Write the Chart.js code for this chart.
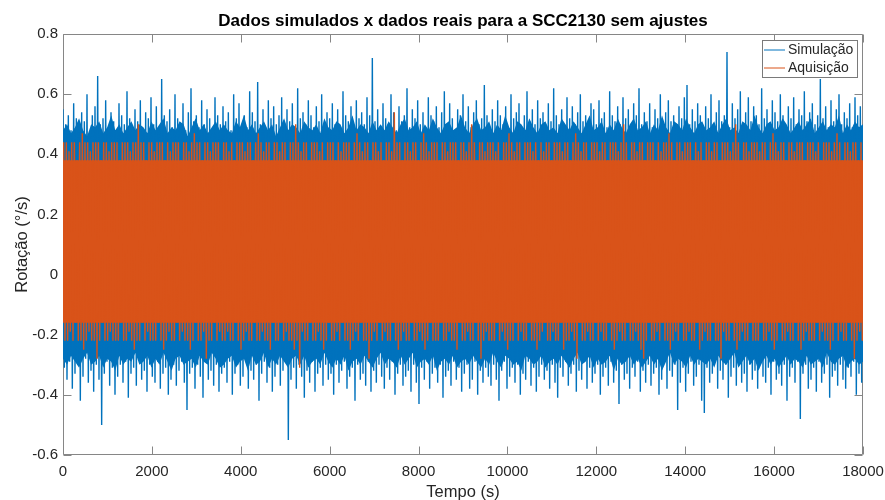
<!DOCTYPE html>
<html>
<head>
<meta charset="utf-8">
<script src="https://cdn.jsdelivr.net/npm/chart.js@4/dist/chart.umd.min.js"></script>
<style>
  html, body { margin: 0; padding: 0; background: #ffffff; }
  #wrap { width: 885px; height: 500px; }
</style>
</head>
<body>
<div id="wrap"><canvas id="c" width="885" height="500"></canvas></div>
<script>
// ---- texts ----
const chartTitle = 'Dados simulados x dados reais para a SCC2130 sem ajustes';
const xAxisTitle = 'Tempo (s)';
const yAxisTitle = 'Rotação (°/s)';
const seriesNames = ['Simulação', 'Aquisição'];

// ---- axes ----
const xTicks = [0, 2000, 4000, 6000, 8000, 10000, 12000, 14000, 16000, 18000];
const xTickLabels = ['0', '2000', '4000', '6000', '8000', '10000', '12000', '14000', '16000', '18000'];
const yTicks = [-0.6, -0.4, -0.2, 0, 0.2, 0.4, 0.6, 0.8];
const yTickLabels = ['-0.6', '-0.4', '-0.2', '0', '0.2', '0.4', '0.6', '0.8'];

// ---- signals ----
const recordLength = 18000;   // s
const extremaSpacing = 30;    // s between successive extremes (peak, trough, peak, ...)
const simStart = 0;           // s
const acqStart = 15;          // s

// Simulação: edges of the densely filled part of the record.
const simEdgeTop = [
  0.48,0.50,0.47,0.49,0.52,0.48,0.46,0.50,0.49,0.51,0.47,0.49,0.53,0.48,0.50,0.47,0.49,0.51,0.48,0.50,
  0.49,0.47,0.51,0.48,0.50,0.52,0.47,0.49,0.48,0.51,0.50,0.46,0.49,0.52,0.48,0.50,0.47,0.49,0.51,0.48,
  0.50,0.48,0.47,0.51,0.49,0.53,0.48,0.50,0.47,0.49,0.51,0.48,0.50,0.46,0.49,0.52,0.48,0.50,0.49,0.47,
  0.51,0.49,0.48,0.50,0.47,0.52,0.49,0.48,0.51,0.50,0.47,0.49,0.53,0.48,0.50,0.49,0.47,0.51,0.48,0.50,
  0.48,0.51,0.49,0.47,0.50,0.52,0.48,0.49,0.51,0.47,0.50,0.48,0.52,0.49,0.47,0.50,0.51,0.48,0.49,0.53,
  0.49,0.47,0.50,0.52,0.48,0.49,0.51,0.47,0.50,0.48,0.53,0.49,0.47,0.51,0.50,0.48,0.52,0.49,0.47,0.50,
  0.51,0.48,0.49,0.47,0.52,0.50,0.48,0.51,0.49,0.47,0.50,0.53,0.48,0.49,0.51,0.47,0.50,0.48,0.52,0.49,
  0.47,0.50,0.52,0.48,0.49,0.51,0.47,0.50,0.48,0.53,0.49,0.47,0.51,0.50,0.48,0.52,0.49,0.47,0.50,0.51,
  0.48,0.49,0.51,0.47,0.50,0.52,0.48,0.49,0.47,0.51,0.50,0.48,0.53,0.49,0.47,0.50,0.51,0.48,0.49,0.52,
  0.50,0.47,0.49,0.51,0.48,0.50,0.52,0.47,0.49,0.51,0.48,0.50,0.49,0.53,0.47,0.50,0.48,0.51,0.49,0.50
];
const simEdgeBottom = [
  -0.28,-0.30,-0.27,-0.29,-0.31,-0.28,-0.26,-0.30,-0.29,-0.27,-0.31,-0.28,-0.29,-0.32,-0.27,-0.30,-0.28,-0.29,-0.26,-0.30,
  -0.29,-0.27,-0.31,-0.28,-0.30,-0.26,-0.29,-0.32,-0.28,-0.27,-0.30,-0.29,-0.28,-0.31,-0.27,-0.29,-0.30,-0.26,-0.28,-0.31,
  -0.30,-0.28,-0.27,-0.31,-0.29,-0.28,-0.32,-0.27,-0.30,-0.29,-0.26,-0.31,-0.28,-0.30,-0.27,-0.29,-0.31,-0.28,-0.27,-0.30,
  -0.27,-0.31,-0.29,-0.28,-0.30,-0.26,-0.29,-0.31,-0.28,-0.30,-0.27,-0.32,-0.29,-0.28,-0.30,-0.27,-0.29,-0.31,-0.28,-0.26,
  -0.30,-0.28,-0.29,-0.31,-0.27,-0.30,-0.28,-0.26,-0.31,-0.29,-0.28,-0.30,-0.27,-0.32,-0.29,-0.28,-0.30,-0.27,-0.31,-0.29,
  -0.28,-0.30,-0.27,-0.29,-0.31,-0.28,-0.30,-0.26,-0.29,-0.31,-0.27,-0.28,-0.30,-0.29,-0.32,-0.27,-0.28,-0.30,-0.29,-0.27,
  -0.31,-0.29,-0.28,-0.30,-0.27,-0.29,-0.31,-0.28,-0.26,-0.30,-0.29,-0.27,-0.31,-0.28,-0.30,-0.29,-0.27,-0.32,-0.28,-0.30,
  -0.29,-0.27,-0.30,-0.28,-0.31,-0.29,-0.27,-0.30,-0.28,-0.32,-0.29,-0.26,-0.30,-0.28,-0.29,-0.31,-0.27,-0.30,-0.28,-0.29,
  -0.30,-0.28,-0.31,-0.27,-0.29,-0.30,-0.28,-0.26,-0.31,-0.29,-0.27,-0.30,-0.28,-0.32,-0.29,-0.27,-0.30,-0.28,-0.31,-0.29,
  -0.27,-0.30,-0.28,-0.29,-0.31,-0.27,-0.30,-0.29,-0.28,-0.31,-0.26,-0.29,-0.30,-0.28,-0.27,-0.31,-0.29,-0.28,-0.30,-0.29
];

// Simulação: local maxima and minima, in time order.
const simHigh = [
  0.55,0.50,0.53,0.48,0.57,0.52,0.49,0.54,0.51,0.60,0.47,0.53,0.56,0.66,0.50,0.52,0.58,0.49,0.54,0.51,
  0.48,0.57,0.53,0.50,0.61,0.52,0.49,0.55,0.51,0.58,0.47,0.54,0.52,0.59,0.50,0.56,0.48,0.65,0.53,0.51,
  0.55,0.49,0.60,0.52,0.50,0.57,0.48,0.54,0.62,0.51,0.53,0.49,0.58,0.50,0.55,0.52,0.47,0.59,0.53,0.50,
  0.56,0.51,0.54,0.48,0.60,0.52,0.57,0.50,0.53,0.49,0.61,0.54,0.51,0.64,0.50,0.55,0.48,0.58,0.52,0.56,
  0.50,0.53,0.59,0.49,0.55,0.51,0.57,0.48,0.62,0.52,0.54,0.50,0.58,0.53,0.49,0.56,0.51,0.60,0.47,0.54,
  0.52,0.57,0.50,0.55,0.48,0.61,0.53,0.51,0.56,0.49,0.58,0.52,0.54,0.50,0.59,0.53,0.72,0.51,0.55,0.49,
  0.57,0.52,0.50,0.60,0.54,0.48,0.56,0.51,0.53,0.62,0.49,0.55,0.52,0.58,0.50,0.54,0.47,0.59,0.53,0.51,
  0.56,0.49,0.54,0.61,0.50,0.57,0.52,0.48,0.55,0.53,0.60,0.51,0.56,0.49,0.54,0.58,0.50,0.52,0.63,0.53,
  0.49,0.55,0.51,0.58,0.53,0.50,0.56,0.48,0.60,0.52,0.54,0.57,0.49,0.53,0.61,0.51,0.55,0.50,0.58,0.52,
  0.54,0.48,0.57,0.51,0.62,0.53,0.50,0.55,0.49,0.59,0.52,0.56,0.50,0.54,0.60,0.51,0.53,0.48,0.57,0.55,
  0.50,0.58,0.52,0.54,0.49,0.61,0.53,0.51,0.56,0.50,0.59,0.52,0.55,0.48,0.57,0.53,0.62,0.50,0.54,0.51,
  0.57,0.49,0.55,0.52,0.60,0.50,0.54,0.58,0.51,0.53,0.49,0.56,0.52,0.59,0.63,0.50,0.55,0.51,0.57,0.53,
  0.49,0.56,0.52,0.60,0.50,0.54,0.58,0.51,0.53,0.74,0.49,0.57,0.52,0.55,0.61,0.50,0.54,0.59,0.51,0.56,
  0.53,0.50,0.62,0.52,0.55,0.48,0.58,0.54,0.51,0.60,0.53,0.49,0.56,0.52,0.59,0.50,0.55,0.53,0.61,0.51,
  0.54,0.57,0.50,0.53,0.65,0.52,0.56,0.49,0.58,0.51,0.55,0.60,0.50,0.54,0.52,0.57,0.49,0.59,0.53,0.56
];
const simLow = [
  -0.31,-0.35,-0.29,-0.38,-0.33,-0.30,-0.42,-0.34,-0.28,-0.36,-0.32,-0.39,-0.30,-0.35,-0.50,-0.33,-0.29,-0.37,-0.31,-0.40,
  -0.34,-0.30,-0.36,-0.29,-0.41,-0.33,-0.31,-0.37,-0.28,-0.35,-0.32,-0.39,-0.30,-0.34,-0.36,-0.29,-0.38,-0.33,-0.31,-0.40,
  -0.35,-0.30,-0.37,-0.32,-0.29,-0.36,-0.45,-0.33,-0.31,-0.38,-0.30,-0.34,-0.41,-0.29,-0.35,-0.32,-0.37,-0.30,-0.39,-0.33,
  -0.31,-0.36,-0.29,-0.40,-0.33,-0.30,-0.37,-0.34,-0.28,-0.38,-0.32,-0.35,-0.30,-0.42,-0.33,-0.29,-0.36,-0.31,-0.39,-0.34,
  -0.30,-0.37,-0.32,-0.29,-0.55,-0.35,-0.31,-0.38,-0.30,-0.34,-0.41,-0.32,-0.36,-0.29,-0.39,-0.33,-0.31,-0.37,-0.30,-0.35,
  -0.33,-0.40,-0.30,-0.36,-0.32,-0.29,-0.38,-0.34,-0.31,-0.42,-0.30,-0.35,-0.33,-0.37,-0.29,-0.39,-0.32,-0.36,-0.30,-0.34,
  -0.38,-0.31,-0.35,-0.29,-0.40,-0.33,-0.30,-0.37,-0.34,-0.32,-0.39,-0.30,-0.36,-0.43,-0.31,-0.35,-0.29,-0.38,-0.33,-0.31,
  -0.36,-0.30,-0.41,-0.34,-0.32,-0.37,-0.29,-0.35,-0.31,-0.39,-0.33,-0.30,-0.38,-0.35,-0.29,-0.40,-0.32,-0.36,-0.31,-0.34,
  -0.37,-0.30,-0.35,-0.42,-0.32,-0.29,-0.38,-0.34,-0.31,-0.36,-0.30,-0.40,-0.33,-0.35,-0.29,-0.37,-0.31,-0.39,-0.34,-0.30,
  -0.35,-0.32,-0.38,-0.30,-0.36,-0.41,-0.31,-0.34,-0.29,-0.37,-0.33,-0.30,-0.39,-0.32,-0.35,-0.29,-0.38,-0.31,-0.36,-0.33,
  -0.30,-0.40,-0.34,-0.31,-0.37,-0.29,-0.36,-0.32,-0.43,-0.30,-0.35,-0.33,-0.38,-0.31,-0.34,-0.29,-0.39,-0.32,-0.36,-0.30,
  -0.37,-0.33,-0.31,-0.40,-0.35,-0.29,-0.38,-0.32,-0.34,-0.30,-0.45,-0.36,-0.31,-0.39,-0.33,-0.29,-0.37,-0.34,-0.30,-0.42,
  -0.46,-0.31,-0.36,-0.33,-0.29,-0.38,-0.32,-0.35,-0.30,-0.41,-0.34,-0.31,-0.37,-0.29,-0.36,-0.33,-0.39,-0.30,-0.35,-0.32,
  -0.38,-0.30,-0.34,-0.36,-0.31,-0.40,-0.29,-0.35,-0.33,-0.37,-0.30,-0.42,-0.34,-0.31,-0.36,-0.29,-0.48,-0.33,-0.30,-0.38,
  -0.35,-0.31,-0.39,-0.29,-0.36,-0.33,-0.30,-0.41,-0.34,-0.32,-0.37,-0.30,-0.35,-0.38,-0.31,-0.34,-0.29,-0.40,-0.33,-0.36
];

// Aquisição: edges of the densely filled part (quantised sensor output).
const acqEdgeTop = [0.38, 0.38];
const acqEdgeBottom = [-0.16, -0.16];

// Aquisição: local maxima and minima, in time order.
const acqHigh = [
  0.44,0.44,0.41,0.44,0.44,0.38,0.44,0.47,0.44,0.44,0.41,0.44,0.44,0.44,0.38,0.44,0.44,0.41,0.44,0.44,
  0.44,0.38,0.44,0.44,0.44,0.41,0.44,0.44,0.50,0.44,0.44,0.38,0.44,0.44,0.41,0.44,0.44,0.44,0.38,0.44,
  0.41,0.44,0.44,0.44,0.38,0.44,0.44,0.41,0.44,0.47,0.44,0.44,0.38,0.44,0.44,0.41,0.44,0.44,0.44,0.38,
  0.44,0.44,0.41,0.44,0.38,0.44,0.44,0.44,0.41,0.44,0.44,0.38,0.44,0.47,0.44,0.41,0.44,0.44,0.38,0.44,
  0.44,0.41,0.44,0.44,0.38,0.44,0.44,0.50,0.44,0.41,0.44,0.44,0.38,0.44,0.44,0.44,0.41,0.44,0.38,0.44,
  0.44,0.44,0.38,0.44,0.41,0.44,0.44,0.44,0.38,0.44,0.47,0.44,0.41,0.44,0.44,0.38,0.44,0.44,0.41,0.44,
  0.38,0.44,0.44,0.41,0.54,0.44,0.44,0.38,0.44,0.44,0.41,0.44,0.44,0.38,0.44,0.47,0.44,0.41,0.44,0.44,
  0.44,0.38,0.44,0.44,0.41,0.44,0.44,0.44,0.38,0.44,0.44,0.41,0.44,0.50,0.44,0.38,0.44,0.44,0.41,0.44,
  0.44,0.44,0.41,0.44,0.38,0.44,0.44,0.47,0.44,0.41,0.44,0.44,0.38,0.44,0.44,0.44,0.41,0.44,0.38,0.44,
  0.41,0.44,0.44,0.38,0.44,0.44,0.44,0.41,0.44,0.44,0.38,0.44,0.47,0.44,0.41,0.44,0.44,0.38,0.44,0.44,
  0.44,0.41,0.44,0.44,0.38,0.44,0.44,0.44,0.41,0.44,0.50,0.44,0.38,0.44,0.44,0.41,0.44,0.44,0.38,0.44,
  0.44,0.44,0.38,0.44,0.41,0.44,0.44,0.47,0.44,0.38,0.44,0.44,0.41,0.44,0.44,0.44,0.38,0.44,0.41,0.44,
  0.38,0.44,0.44,0.41,0.44,0.44,0.38,0.44,0.44,0.44,0.41,0.44,0.50,0.44,0.38,0.44,0.44,0.41,0.44,0.44,
  0.44,0.41,0.44,0.44,0.38,0.44,0.47,0.44,0.41,0.44,0.44,0.38,0.44,0.44,0.41,0.44,0.44,0.44,0.38,0.44,
  0.44,0.44,0.41,0.44,0.38,0.44,0.44,0.44,0.41,0.44,0.47,0.44,0.38,0.44,0.44,0.41,0.44,0.44,0.38,0.44
];
const acqLow = [
  -0.22,-0.22,-0.19,-0.22,-0.16,-0.22,-0.22,-0.25,-0.22,-0.19,-0.22,-0.22,-0.28,-0.22,-0.16,-0.22,-0.22,-0.19,-0.22,-0.22,
  -0.22,-0.16,-0.22,-0.22,-0.19,-0.22,-0.25,-0.22,-0.22,-0.16,-0.22,-0.19,-0.22,-0.22,-0.22,-0.16,-0.22,-0.25,-0.22,-0.19,
  -0.22,-0.22,-0.16,-0.22,-0.19,-0.22,-0.22,-0.25,-0.22,-0.16,-0.22,-0.22,-0.19,-0.28,-0.22,-0.22,-0.16,-0.22,-0.19,-0.22,
  -0.22,-0.19,-0.22,-0.22,-0.16,-0.22,-0.25,-0.22,-0.19,-0.22,-0.22,-0.16,-0.22,-0.22,-0.19,-0.22,-0.22,-0.25,-0.16,-0.22,
  -0.22,-0.16,-0.22,-0.19,-0.22,-0.22,-0.25,-0.22,-0.31,-0.19,-0.22,-0.22,-0.16,-0.22,-0.22,-0.19,-0.22,-0.25,-0.22,-0.16,
  -0.22,-0.22,-0.19,-0.22,-0.16,-0.22,-0.22,-0.25,-0.22,-0.19,-0.22,-0.16,-0.22,-0.22,-0.28,-0.22,-0.19,-0.22,-0.16,-0.22,
  -0.19,-0.22,-0.22,-0.16,-0.22,-0.25,-0.22,-0.19,-0.22,-0.22,-0.16,-0.22,-0.22,-0.19,-0.22,-0.25,-0.22,-0.16,-0.22,-0.22,
  -0.22,-0.16,-0.22,-0.22,-0.19,-0.22,-0.22,-0.25,-0.16,-0.22,-0.22,-0.19,-0.22,-0.22,-0.16,-0.22,-0.28,-0.22,-0.19,-0.22,
  -0.22,-0.22,-0.16,-0.22,-0.19,-0.22,-0.25,-0.22,-0.22,-0.16,-0.22,-0.19,-0.22,-0.22,-0.16,-0.22,-0.22,-0.25,-0.22,-0.19,
  -0.16,-0.22,-0.22,-0.19,-0.22,-0.22,-0.16,-0.25,-0.22,-0.22,-0.19,-0.22,-0.28,-0.16,-0.22,-0.22,-0.19,-0.22,-0.22,-0.16,
  -0.22,-0.19,-0.22,-0.22,-0.16,-0.22,-0.25,-0.22,-0.19,-0.22,-0.22,-0.16,-0.22,-0.22,-0.19,-0.22,-0.25,-0.28,-0.22,-0.16,
  -0.22,-0.22,-0.19,-0.22,-0.16,-0.22,-0.22,-0.25,-0.22,-0.19,-0.22,-0.16,-0.22,-0.22,-0.19,-0.22,-0.22,-0.16,-0.25,-0.22,
  -0.19,-0.22,-0.22,-0.16,-0.22,-0.22,-0.28,-0.19,-0.22,-0.22,-0.16,-0.22,-0.25,-0.22,-0.19,-0.22,-0.22,-0.16,-0.22,-0.22,
  -0.22,-0.16,-0.22,-0.22,-0.19,-0.22,-0.25,-0.22,-0.16,-0.22,-0.22,-0.19,-0.22,-0.22,-0.16,-0.22,-0.25,-0.22,-0.19,-0.22,
  -0.22,-0.22,-0.16,-0.22,-0.19,-0.22,-0.22,-0.25,-0.22,-0.16,-0.22,-0.19,-0.22,-0.22,-0.16,-0.22,-0.28,-0.22,-0.19,-0.22
];

// ---- style ----
const BLUE = '#0072BD';
const ORANGE = '#D95319';
const AXIS = '#868686';
const TEXT = '#262626';
const FONT = '"Liberation Sans", Arial, Helvetica, sans-serif';

// Interleave maxima and minima into one time-ordered trace.
function trace(high, low, start) {
  const pts = [];
  for (let i = 0; i < high.length; i++) {
    pts.push({ x: start + (2 * i) * extremaSpacing, y: high[i] });
    pts.push({ x: start + (2 * i + 1) * extremaSpacing, y: low[i] });
  }
  return pts;
}
// Edge values spread evenly over the record.
function edge(values) {
  const n = values.length - 1;
  return values.map((v, i) => ({ x: recordLength * i / n, y: v }));
}

const lineBase = { pointRadius: 0, pointHoverRadius: 0, tension: 0, fill: false };

// Box, inward ticks (beneath the data), titles and legend
const axesBox = {
  id: 'axesBox',
  beforeDatasetsDraw(chart) {
    const { ctx, chartArea: a, scales } = chart;
    const L = Math.round(a.left) + 0.5, R = Math.round(a.right) - 0.5;
    const T = Math.round(a.top) + 0.5, B = Math.round(a.bottom) - 0.5;
    const len = 8;
    ctx.save();
    ctx.strokeStyle = AXIS;
    ctx.lineWidth = 1;
    ctx.beginPath();
    ctx.rect(L, T, R - L, B - T);
    xTicks.forEach(v => {
      const px = Math.round(scales.x.getPixelForValue(v)) + 0.5;
      ctx.moveTo(px, B); ctx.lineTo(px, B - len);
      ctx.moveTo(px, T); ctx.lineTo(px, T + len);
    });
    yTicks.forEach(v => {
      const py = Math.round(scales.y.getPixelForValue(v)) + 0.5;
      ctx.moveTo(L, py); ctx.lineTo(L + len, py);
      ctx.moveTo(R, py); ctx.lineTo(R - len, py);
    });
    ctx.stroke();
    ctx.restore();
  },
  afterDraw(chart) {
    const { ctx, chartArea: a } = chart;
    const cx = (a.left + a.right) / 2;
    const cy = (a.top + a.bottom) / 2;
    ctx.save();
    ctx.fillStyle = '#000000';
    ctx.font = 'bold 17px ' + FONT;
    ctx.textAlign = 'center';
    ctx.textBaseline = 'alphabetic';
    ctx.fillText(chartTitle, cx, 26);
    ctx.fillStyle = TEXT;
    ctx.font = '16.5px ' + FONT;
    ctx.fillText(xAxisTitle, cx, 497);
    ctx.save();
    ctx.translate(27, cy);
    ctx.rotate(-Math.PI / 2);
    ctx.fillText(yAxisTitle, 0, 0);
    ctx.restore();
    const lx = 762.5, ly = 40.5, lw = 95, lh = 37;
    ctx.fillStyle = '#ffffff';
    ctx.fillRect(lx, ly, lw, lh);
    ctx.strokeStyle = '#7a7a7a';
    ctx.lineWidth = 1;
    ctx.strokeRect(lx, ly, lw, lh);
    const entries = [
      { label: seriesNames[0], color: BLUE, y: 50 },
      { label: seriesNames[1], color: ORANGE, y: 68 }
    ];
    ctx.font = '14px ' + FONT;
    ctx.textAlign = 'left';
    ctx.textBaseline = 'middle';
    entries.forEach(e => {
      ctx.strokeStyle = e.color;
      ctx.lineWidth = 1;
      ctx.beginPath();
      ctx.moveTo(764, e.y);
      ctx.lineTo(785, e.y);
      ctx.stroke();
      ctx.fillStyle = TEXT;
      ctx.fillText(e.label, 788, e.y + 0.5);
    });
    ctx.restore();
  }
};

new Chart(document.getElementById('c'), {
  type: 'line',
  data: {
    datasets: [
      { ...lineBase, label: seriesNames[0] + ' (faixa)', data: edge(simEdgeTop), borderWidth: 0,
        borderColor: BLUE, backgroundColor: BLUE, fill: '+1', order: 40 },
      { ...lineBase, label: seriesNames[0] + ' (faixa inf.)', data: edge(simEdgeBottom), borderWidth: 0,
        borderColor: BLUE, order: 40 },
      { ...lineBase, label: seriesNames[0], data: trace(simHigh, simLow, simStart), borderWidth: 1.4,
        borderColor: BLUE, order: 30 },
      { ...lineBase, label: seriesNames[1] + ' (faixa)', data: edge(acqEdgeTop), borderWidth: 0,
        borderColor: ORANGE, backgroundColor: ORANGE, fill: '+1', order: 20 },
      { ...lineBase, label: seriesNames[1] + ' (faixa inf.)', data: edge(acqEdgeBottom), borderWidth: 0,
        borderColor: ORANGE, order: 20 },
      { ...lineBase, label: seriesNames[1], data: trace(acqHigh, acqLow, acqStart), borderWidth: 1.4,
        borderColor: ORANGE, order: 10 }
    ]
  },
  options: {
    responsive: false,
    animation: false,
    parsing: false,
    normalized: true,
    devicePixelRatio: 1,
    events: [],
    layout: { padding: { top: 34, right: 22, left: 0, bottom: 0 } },
    plugins: {
      legend: { display: false },
      title: { display: false },
      tooltip: { enabled: false }
    },
    scales: {
      x: {
        type: 'linear',
        min: 0, max: 18000,
        grid: { display: false, drawTicks: false },
        border: { display: false },
        afterBuildTicks: s => { s.ticks = xTicks.map(v => ({ value: v })); },
        afterFit: s => { s.height = 45; s.paddingLeft = 0; s.paddingRight = 0; },
        ticks: {
          maxRotation: 0, autoSkip: false, padding: 8,
          color: TEXT, font: { size: 15, family: FONT },
          callback: (v) => xTickLabels[xTicks.indexOf(v)]
        }
      },
      y: {
        type: 'linear',
        min: -0.6, max: 0.8,
        grid: { display: false, drawTicks: false },
        border: { display: false },
        afterBuildTicks: s => { s.ticks = yTicks.map(v => ({ value: v })); },
        afterFit: s => { s.width = 63; s.paddingTop = 0; s.paddingBottom = 0; },
        ticks: {
          autoSkip: false, padding: 5,
          color: TEXT, font: { size: 15, family: FONT },
          callback: (v) => {
            const i = yTicks.findIndex(t => Math.abs(t - v) < 1e-9);
            return i >= 0 ? yTickLabels[i] : '';
          }
        }
      }
    }
  },
  plugins: [axesBox]
});
</script>
</body>
</html>
